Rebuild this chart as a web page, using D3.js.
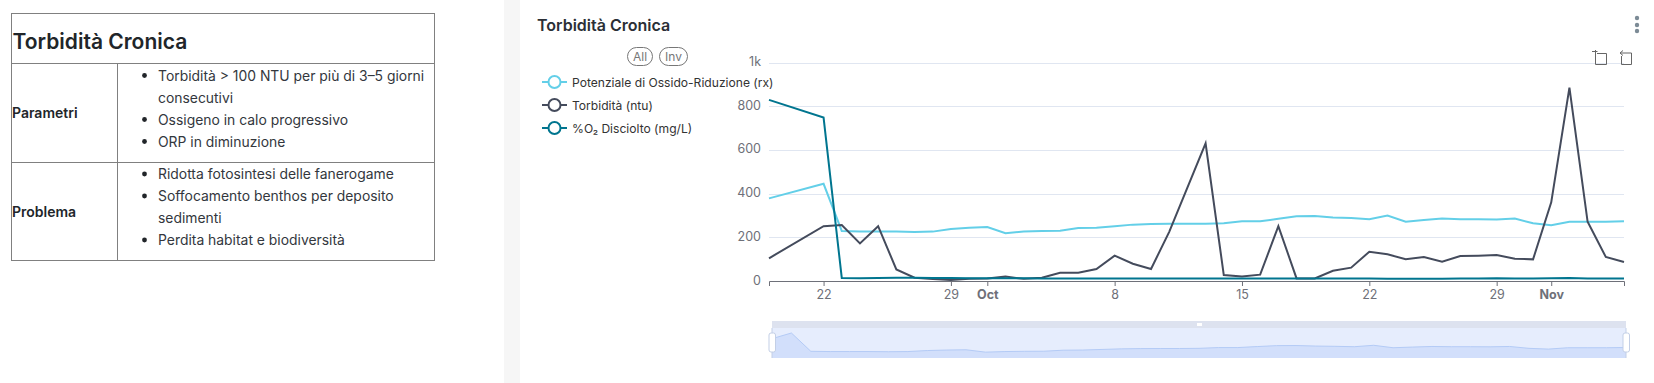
<!DOCTYPE html>
<html>
<head>
<meta charset="utf-8">
<script src="https://cdn.jsdelivr.net/npm/d3@7"></script>
<style>
  html, body { margin: 0; padding: 0; background: #fff; overflow: hidden; }
  svg { display: block; font-family: Inter, sans-serif; }
</style>
</head>
<body>
<div id="chart"></div>
<script>
// data
const dates = ["09-19","09-22","09-23","09-24","09-25","09-26","09-27","09-28","09-29","09-30",
  "10-01","10-02","10-03","10-04","10-05","10-06","10-07","10-08","10-09","10-10","10-11","10-13",
  "10-14","10-15","10-16","10-17","10-18","10-19","10-20","10-21","10-22","10-23","10-24","10-25",
  "10-26","10-27","10-28","10-29","10-30","10-31","11-01","11-02","11-03","11-04","11-05"]
const redox = [378,445,229,226,226,226,224,226,238,244,
  247,219,226,229,230,242,244,251,258,261,262,262,
  264,273,273,285,296,297,291,288,283,300,271,279,
  286,283,283,282,286,264,255,271,271,271,274]
const turbidity = [104,251,256,172,251,53,15,9,5,10,
  12,20,10,15,38,38,55,116,79,55,225,630,
  27,21,29,251,12,12,47,61,134,122,100,110,
  88,114,116,119,102,99,360,885,271,110,87]
const oxygen = [829,748,14,13,14,15,15,14,14,13,
  13,13,13,12,12,11,12,12,12,12,11,11,
  11,11,11,11,11,11,11,11,11,10,10,10,
  10,11,12,13,12,12,13,14,11,12,11]

const seriesNames = ["Potenziale di Ossido-Riduzione (rx)", "Torbidità (ntu)", "%O₂ Disciolto (mg/L)"]
const seriesColors = ["#63cfe8", "#444b5c", "#00758f"]
const seriesValues = [redox, turbidity, oxygen]

const yTicks = [0, 200, 400, 600, 800, 1000]
const xTicks = ["09-22","09-29","10-01","10-08","10-15","10-22","10-29","11-01"]

const tableTitle = "Torbidità Cronica"
const tableRowNames = ["Parametri", "Problema"]
const tableRowLines = [
  ["• Torbidità > 100 NTU per più di 3–5 giorni", "consecutivi", "• Ossigeno in calo progressivo", "• ORP in diminuzione"],
  ["• Ridotta fotosintesi delle fanerogame", "• Soffocamento benthos per deposito", "sedimenti", "• Perdita habitat e biodiversità"]
]

const width = 1654
const height = 383
const plot = {left: 769, right: 1624, top: 62.5, bottom: 281}
const slider = {left: 772, right: 1626, top: 321, band: 328, bottom: 358}

const parseDay = d3.utcParse("%Y-%m-%d")
const day = function(s) { return parseDay("2025-" + s) }
const days = dates.map(day)

const svg = d3.select("#chart").append("svg")
    .attr("width", width)
    .attr("height", height)

// grijze strook tussen tabel en grafiek
svg.append("rect").attr("x", 504).attr("y", 0).attr("width", 16).attr("height", height).attr("fill", "#f6f6f6")

// tabel links
function drawTable() {
  const g = svg.append("g")
  const border = "#808080"
  const rowLines = [63.5, 162.5, 260.5]
  g.append("rect").attr("x", 11.5).attr("y", 13.5).attr("width", 423).attr("height", 247)
      .attr("fill", "none").attr("stroke", border)
  g.selectAll(".row").data(rowLines.slice(0, 2)).enter().append("line")
      .attr("x1", 11.5).attr("x2", 434.5).attr("y1", function(d) { return d }).attr("y2", function(d) { return d })
      .attr("stroke", border)
  g.append("line").attr("x1", 117.5).attr("x2", 117.5).attr("y1", rowLines[0]).attr("y2", rowLines[2]).attr("stroke", border)

  g.append("text").attr("x", 12.5).attr("y", 49).attr("fill", "#212529")
      .attr("font-size", 21).attr("font-weight", 600).text(tableTitle)

  tableRowNames.forEach(function(name, i) {
    const top = rowLines[i]
    g.append("text").attr("x", 12).attr("y", top + 54).attr("fill", "#212529")
        .attr("font-size", 14).attr("font-weight", 600).text(name)
    tableRowLines[i].forEach(function(line, j) {
      const bullet = line.startsWith("• ")
      const baseline = top + (i === 0 ? 17 : 16.5) + j * 22
      if (bullet) {
        g.append("circle").attr("cx", 144.5).attr("cy", baseline - 5).attr("r", 2.4).attr("fill", "#212529")
      }
      g.append("text").attr("x", 158).attr("y", baseline).attr("fill", "#33373d")
          .attr("font-size", 13.9).text(bullet ? line.slice(2) : line)
    })
  })
}

// kop, knoppen en legenda
function drawHeader() {
  svg.append("text").attr("x", 537).attr("y", 31).attr("fill", "#2b2f36")
      .attr("font-size", 16).attr("font-weight", 600).text("Torbidità Cronica")

  const menu = svg.append("g").attr("fill", "#7c8b96")
  menu.selectAll("circle").data([18, 25, 31]).enter().append("circle")
      .attr("cx", 1637).attr("cy", function(d) { return d }).attr("r", 2.2)

  const buttons = [{label: "All", x: 627, w: 25}, {label: "Inv", x: 659, w: 28}]
  buttons.forEach(function(b) {
    svg.append("rect").attr("x", b.x + 0.5).attr("y", 47.5).attr("width", b.w).attr("height", 18).attr("rx", 9)
        .attr("fill", "#fff").attr("stroke", "#777")
    svg.append("text").attr("x", b.x + b.w / 2 + 0.5).attr("y", 60.5).attr("text-anchor", "middle")
        .attr("fill", "#777").attr("font-size", 12).text(b.label)
  })

  const legend = svg.append("g").selectAll("g").data(seriesNames).enter().append("g")
      .attr("transform", function(d, i) { return "translate(542," + (82 + i * 23) + ")" })
  legend.append("line").attr("x1", 0).attr("x2", 25)
      .attr("stroke", function(d, i) { return seriesColors[i] }).attr("stroke-width", 2)
  legend.append("circle").attr("cx", 12.5).attr("r", 6).attr("fill", "#fff")
      .attr("stroke", function(d, i) { return seriesColors[i] }).attr("stroke-width", 2)
  legend.append("text").attr("x", 30).attr("y", 4.5).attr("fill", "#333")
      .attr("font-size", 12.1).text(function(d) { return d })
}

// de grafiek zelf
function drawChart() {
  const xScale = d3.scaleUtc().domain([days[0], days[days.length - 1]]).range([plot.left, plot.right])
  const yScale = d3.scaleLinear().domain([0, 1000]).range([plot.bottom, plot.top])

  svg.append("g").selectAll("line").data(yTicks.slice(1)).enter().append("line")
      .attr("x1", plot.left).attr("x2", plot.right)
      .attr("y1", function(d) { return Math.round(yScale(d)) + 0.5 })
      .attr("y2", function(d) { return Math.round(yScale(d)) + 0.5 })
      .attr("stroke", "#e0e6f1")

  const yAxis = svg.append("g")
      .attr("transform", "translate(" + plot.left + ",-1)")
      .call(d3.axisLeft(yScale).tickValues(yTicks).tickSize(0).tickPadding(8)
        .tickFormat(function(d) { return d === 1000 ? "1k" : d }))
  yAxis.select(".domain").remove()
  yAxis.selectAll("text").attr("fill", "#6e7079").attr("font-family", "Inter, sans-serif").attr("font-size", 12.5)

  const xAxis = svg.append("g")
      .attr("transform", "translate(0," + plot.bottom + ")")
      .call(d3.axisBottom(xScale).tickValues(xTicks.map(day)).tickSizeOuter(0).tickSize(5).tickPadding(4)
        .tickFormat(function(d) {
          return d.getUTCDate() === 1 ? d3.utcFormat("%b")(d) : d.getUTCDate()
        }))
  xAxis.select(".domain").attr("stroke", "#6e7079")
  xAxis.selectAll("line").attr("stroke", "#6e7079")
  xAxis.selectAll("text").attr("fill", "#6e7079").attr("font-family", "Inter, sans-serif").attr("font-size", 12.5)
      .attr("font-weight", function(d) { return d.getUTCDate() === 1 ? 700 : 400 })

  const line = d3.line()
      .x(function(d) { return xScale(d.date) })
      .y(function(d) { return yScale(d.value) })

  seriesValues.forEach(function(values, i) {
    svg.append("path")
        .datum(values.map(function(v, j) { return {date: days[j], value: v} }))
        .attr("d", line)
        .attr("fill", "none")
        .attr("stroke", seriesColors[i])
        .attr("stroke-width", 2)
  })

  // zoom icoontjes rechtsboven
  const icons = svg.append("g").attr("fill", "none").attr("stroke", "#666")
  icons.append("path").attr("d", "M1595.5 54.5V64.5H1606.5V53.5H1597M1592 51.5H1597.5M1595.5 50V55")
  icons.append("path").attr("d", "M1621.5 56V64.5H1631.5V53H1620M1620 53L1623 50.5M1620 53L1623 55.5")
}

// dataZoom balk onderaan, per meetpunt gelijk verdeeld
function drawSlider() {
  const xScale = d3.scalePoint().domain(dates).range([slider.left, slider.right])
  const yScale = d3.scaleLinear().domain([150, 445]).range([slider.bottom, 333])
  const points = redox.map(function(v, j) { return {date: dates[j], value: v} })

  svg.append("rect").attr("x", slider.left).attr("y", slider.band).attr("width", slider.right - slider.left)
      .attr("height", slider.bottom - slider.band).attr("fill", "#e6edfd")
  svg.append("rect").attr("x", slider.left).attr("y", slider.top).attr("width", slider.right - slider.left)
      .attr("height", slider.band - slider.top).attr("fill", "#dde2ef")

  svg.append("path").datum(points)
      .attr("d", d3.area()
        .x(function(d) { return xScale(d.date) })
        .y0(slider.bottom)
        .y1(function(d) { return yScale(d.value) }))
      .attr("fill", "#d2dffb")
  svg.append("path").datum(points)
      .attr("d", d3.line()
        .x(function(d) { return xScale(d.date) })
        .y(function(d) { return yScale(d.value) }))
      .attr("fill", "none").attr("stroke", "#b4cbf6")

  svg.append("rect").attr("x", 1197).attr("y", 323).attr("width", 5).attr("height", 3).attr("fill", "#fff")

  const handles = svg.append("g").selectAll("g").data([slider.left, slider.right]).enter().append("g")
  handles.append("line")
      .attr("x1", function(d) { return d }).attr("x2", function(d) { return d })
      .attr("y1", slider.band).attr("y2", slider.bottom)
      .attr("stroke", "#c3cfe6")
  handles.append("rect")
      .attr("x", function(d) { return d - 3 }).attr("y", 333).attr("width", 6.5).attr("height", 19).attr("rx", 2)
      .attr("fill", "#fff").attr("stroke", "#c3cfe6")
}

drawTable()
drawHeader()
drawChart()
drawSlider()
</script>
</body>
</html>
